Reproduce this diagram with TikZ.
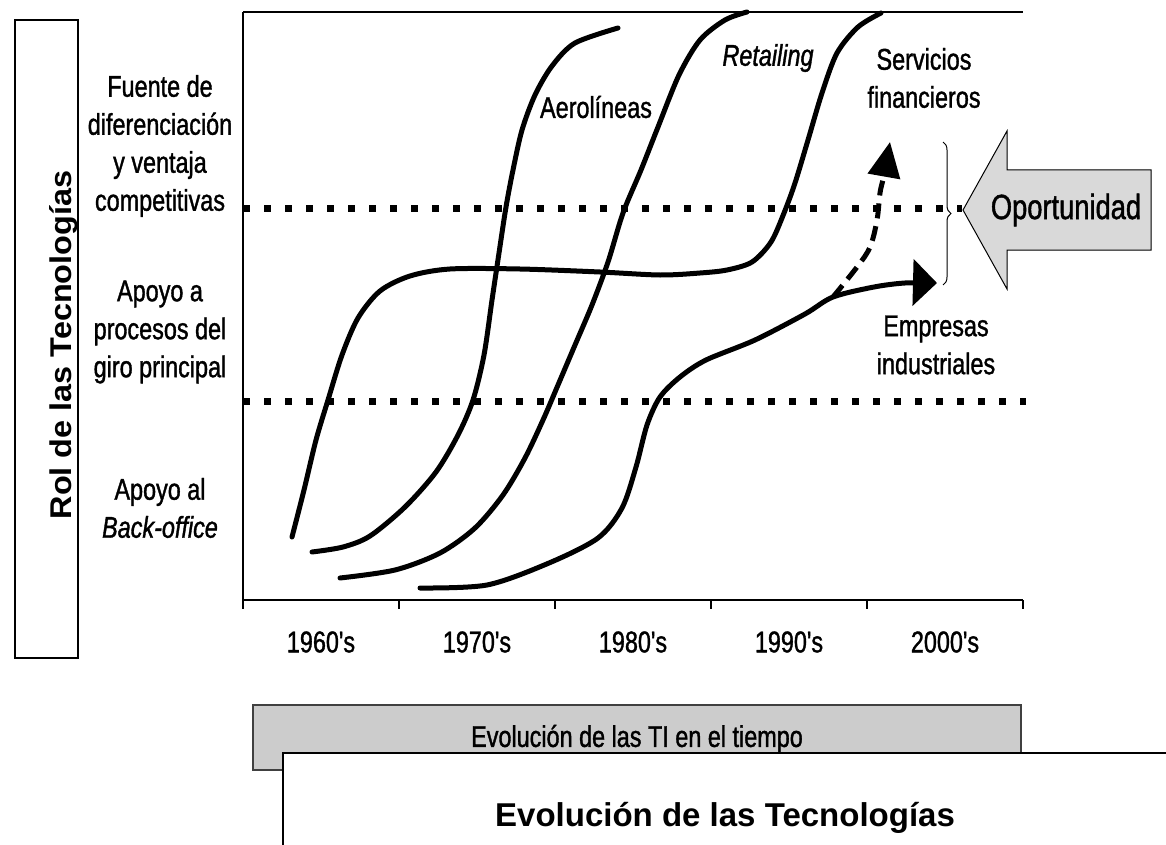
\documentclass[tikz,border=0pt]{standalone}
\usepackage{fontspec}
\setmainfont{Liberation Sans}
\newfontfamily\narrowfont[FakeStretch=0.78,FakeBold=1.2]{Liberation Sans}
\newfontfamily\widefont[FakeStretch=1.08]{Liberation Sans}
\usetikzlibrary{arrows.meta,decorations.pathreplacing,positioning}

\definecolor{grisclaro}{HTML}{D9D9D9}
\definecolor{grisbarra}{HTML}{CCCCCC}

\tikzset{
	marco/.style={line width=2pt},
	curva/.style={line width=5pt, line cap=round, line join=round},
	nivel/.style={line width=7pt, dash pattern=on 7pt off 14pt},
	rotulo/.style={font=\narrowfont\fontsize{30}{38}\selectfont, align=center, inner sep=0pt},
	decada/.style={font=\narrowfont\fontsize{30}{36}\selectfont, inner sep=0pt},
}

\begin{document}
\begin{tikzpicture}[x=1pt,y=-1pt]
	\useasboundingbox (0,0) rectangle (1166,845);

	% eje vertical
	\node[draw, marco, minimum width=63pt, minimum height=638pt, inner sep=0pt] (rolcaja) at (46.5,339) {};
	\node[rotate=90, anchor=base, font=\widefont\bfseries\fontsize{30}{36}\selectfont] (rol) at (71,345) {Rol de las Tecnologías};

	\node[rotulo] (fuente) at (160,146) {Fuente de\\diferenciación\\y ventaja\\competitivas};
	\node[rotulo] (apoyo) at (160,332) {Apoyo a\\procesos del\\giro principal};
	\node[rotulo] (back) at (160,508) {Apoyo al\\\textit{Back-office}};

	% marco del grafico
	\coordinate (o) at (243,600);
	\draw[marco] (243,12) -- (o) -- (1023,600);
	\draw[marco] (243,12) -- (1023,12);
	\foreach \x in {243,399,555,711,867,1023}
		\draw[marco] (\x,600) -- (\x,609);
	\foreach \x/\d in {321/1960,477/1970,633/1980,789/1990,945/2000}
		\node[decada] (d\d) at (\x,642) {\d's};

	% niveles
	\draw[nivel] (243,208) -- (962,208);
	\draw[nivel] (243,401) -- (1026,401);

	% curvas
	\draw[curva] plot[smooth, tension=0.5] coordinates {(292,537) (304,490) (316,440) (328,400) (342,355) (358,318) (380,291) (410,276) (450,269) (520,269) (600,272) (660,275) (700,273) (727,270) (752,262) (771,242) (784,213) (795,183) (808,140) (822,93) (837,53) (858,27) (881,13)};
	\draw[curva] plot[smooth, tension=0.5] coordinates {(312,552) (343,547) (370,536) (405,507) (436,472) (458,435) (473,400) (484,355) (492,300) (499,253) (506,207) (513,170) (522,130) (535,95) (552,66) (575,43) (618,28)};
	\draw[curva] plot[smooth, tension=0.5] coordinates {(340,578) (395,570) (440,553) (475,528) (503,495) (525,458) (543,420) (558,385) (575,345) (592,305) (608,262) (623,213) (641,170) (658,127) (679,75) (700,40) (725,20) (747,12)};
	\coordinate (rama) at (833,297);
	\draw[curva, -{Triangle[length=24pt,width=46pt]}] plot[smooth, tension=0.5] coordinates {(420,588) (487,585) (549,563) (598,538) (622,508) (636,467) (647,425) (660,397) (680,377) (706,360) (755,340) (805,314) (rama) (874,287) (905,283) (937,283)};
	\draw[curva, line cap=butt, dash pattern=on 15pt off 8pt, -{Triangle[length=35pt,width=32pt]}] plot[smooth, tension=0.6] coordinates {(rama) (857,267) (870,247) (877,220) (880,193) (884,175) (890,142)};

	\node[rotulo] (aero) at (596,107) {Aerolíneas};
	\node[rotulo, font=\narrowfont\itshape\fontsize{30}{38}\selectfont] (retail) at (768,58) {Retailing};
	\node[rotulo] (serv) at (924,78) {Servicios\\financieros};
	\node[rotulo] (emp) at (936,345) {Empresas\\industriales};

	% oportunidad
	\draw[decorate, decoration={brace, amplitude=8pt}, line width=1pt] (943,142) -- (943,285);
	\draw[fill=grisclaro, line width=1pt] (963,210) -- (1007,131) -- (1007,170) -- (1151,170) -- (1151,250) -- (1007,250) -- (1007,289) -- cycle;
	\node[rotulo, font=\narrowfont\fontsize{35}{40}\selectfont] (oport) at (1066,210) {Oportunidad};

	% barras inferiores
	\node[draw=black!75, fill=grisbarra, line width=2.5pt, minimum width=768pt, minimum height=65pt, inner sep=0pt] (tiempo) at (637,737.5) {};
	\node[rotulo] (tiempotxt) at (637,739) {Evolución de las TI en el tiempo};
	\draw[marco, fill=white] (1180,753) -- (283,753) -- (283,860) -- (1180,860);
	\node[font=\bfseries\fontsize{33}{40}\selectfont] (titulo) at (725,818) {Evolución de las Tecnologías};
\end{tikzpicture}
\end{document}
